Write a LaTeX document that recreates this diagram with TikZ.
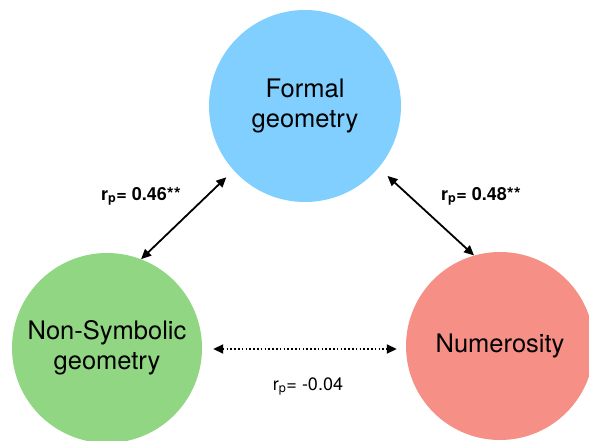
\documentclass[tikz,border=0pt]{standalone}
\usepackage{fontspec}
\setmainfont{TeX Gyre Heros}
\usetikzlibrary{arrows.meta,calc}
\definecolor{cblue}{RGB}{128,207,254}
\definecolor{cgreen}{RGB}{145,214,130}
\definecolor{cred}{RGB}{246,144,134}
\tikzset{
  bubble/.style={circle,minimum size=190pt,inner sep=0pt,align=center,font=\fontsize{25.5}{29.5}\selectfont},
  corr/.style={line width=1.8pt,{Triangle[length=10pt,width=9pt]}-{Triangle[length=10pt,width=9pt]}},
  lab/.style={font=\fontsize{18}{20}\selectfont,anchor=base,inner sep=0pt}
}
\begin{document}
\begin{tikzpicture}[x=1pt,y=-1pt]
\useasboundingbox (0,0) rectangle (589,441);
\clip (0,0) rectangle (589,441);
\node[bubble,fill=cblue,minimum size=192pt] (formal) at (305,106) {Formal\\geometry};
\node[bubble,fill=cgreen] (nonsym) at (107,348) {Non-Symbolic\\geometry};
\node[bubble,fill=cred,minimum size=188pt] (num) at (500,346) {\raisebox{-4pt}{Numerosity}};
\draw[corr,shorten >=10pt] (nonsym.69) -- (formal.222);
\draw[corr,shorten <=12pt] (formal.320) -- (num.106);
\coordinate (dl) at ($(nonsym.east)+(0,1)$);
\draw[corr,dash pattern=on 1.6pt off 2.2pt,shorten <=11pt,shorten >=9pt]
  (dl) -- (dl -| num.west);
\node[lab,font=\fontsize{18}{20}\selectfont\bfseries] (l1) at (141,200) {r\textsubscript{p}= 0.46**};
\node[lab,font=\fontsize{18}{20}\selectfont\bfseries] (l2) at (481,200) {r\textsubscript{p}= 0.48**};
\node[lab] (l3) at (308,390) {r\textsubscript{p}= -0.04};
\end{tikzpicture}
\end{document}
